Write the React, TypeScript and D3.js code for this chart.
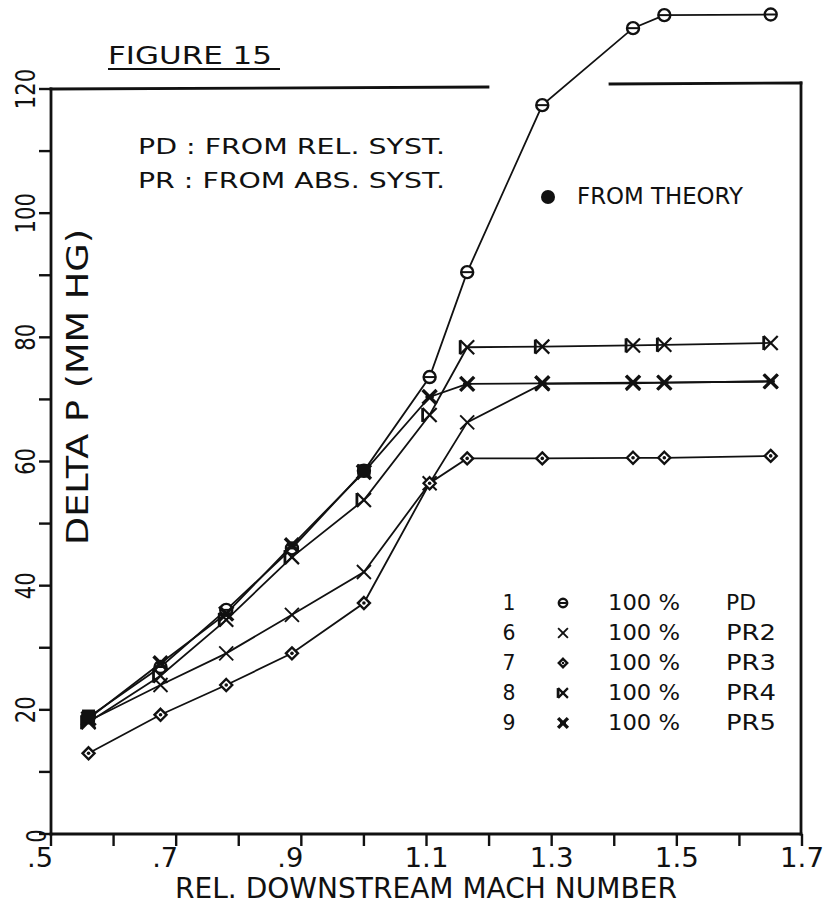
import React from 'react';
import * as d3 from 'd3';

// ---- data ----
const machNumbers = [0.56, 0.675, 0.78, 0.885, 1.0, 1.105, 1.165, 1.285, 1.43, 1.48, 1.65];
const seriesPD = [18.8, 26.9, 36.1, 46.0, 58.5, 73.6, 90.5, 117.4, 129.8, 131.9, 132.0];
const seriesPR2 = [18.2, 24.0, 29.1, 35.3, 42.2, 56.5, 66.3, 72.5, 72.6, 72.7, 72.9];
const seriesPR3 = [13.0, 19.2, 24.0, 29.1, 37.2, 56.5, 60.5, 60.5, 60.6, 60.6, 60.9];
const seriesPR4 = [18.0, 25.5, 34.5, 44.6, 53.8, 67.5, 78.4, 78.5, 78.7, 78.8, 79.1];
const seriesPR5 = [18.6, 27.5, 35.5, 46.5, 58.3, 70.4, 72.5, 72.6, 72.7, 72.7, 72.9];
const theoryX = [0.56, 1.0];
const theoryY = [19.0, 58.5];

const xTickValues = [0.5, 0.6, 0.7, 0.8, 0.9, 1.0, 1.1, 1.2, 1.3, 1.4, 1.5, 1.6, 1.7];
const xLabelValues = [0.5, 0.7, 0.9, 1.1, 1.3, 1.5, 1.7];
const xLabelTexts = ['.5', '.7', '.9', '1.1', '1.3', '1.5', '1.7'];
const yTickValues = [0, 10, 20, 30, 40, 50, 60, 70, 80, 90, 100, 110, 120];
const yLabelValues = [0, 20, 40, 60, 80, 100, 120];
const yLabelTexts = ['0', '20', '40', '60', '80', '100', '120'];

const legendNumbers = ['1', '6', '7', '8', '9'];
const legendPercents = ['100 %', '100 %', '100 %', '100 %', '100 %'];
const legendNames = ['PD', 'PR2', 'PR3', 'PR4', 'PR5'];
const legendKinds = ['circle', 'cross', 'diamond', 'kappa', 'bold'];

const W = 829;
const H = 912;
const FONT = '"DejaVu Sans", "Liberation Sans", sans-serif';

const x = d3.scaleLinear().domain([0.5, 1.7]).range([51, 802]);
const y = d3.scaleLinear().domain([0, 120]).range([834, 89]);

function Marker({ kind, cx, cy, s = 1 }: { kind: string; cx: number; cy: number; s?: number }) {
  const k = 7 * s;
  if (kind === 'circle') {
    const r = 6 * s;
    return (
      <g>
        <circle cx={cx} cy={cy} r={r} fill="white" stroke="#111" strokeWidth={2.4} />
        <line x1={cx - r} x2={cx + r} y1={cy} y2={cy} stroke="#111" strokeWidth={2} />
      </g>
    );
  }
  if (kind === 'cross') {
    return (
      <g stroke="#111" strokeWidth={1.9}>
        <line x1={cx - k} y1={cy - k} x2={cx + k} y2={cy + k} />
        <line x1={cx - k} y1={cy + k} x2={cx + k} y2={cy - k} />
      </g>
    );
  }
  if (kind === 'diamond') {
    const d = 6 * s;
    return (
      <g>
        <path d={`M${cx},${cy - d}L${cx + d},${cy}L${cx},${cy + d}L${cx - d},${cy}Z`} fill="white" stroke="#111" strokeWidth={2.4} />
        <circle cx={cx} cy={cy} r={1.8 * s} fill="#111" />
      </g>
    );
  }
  if (kind === 'kappa') {
    return (
      <g stroke="#111" strokeWidth={2.2}>
        <line x1={cx - k} y1={cy - k} x2={cx - k} y2={cy + k} strokeWidth={2.8} />
        <line x1={cx - k} y1={cy - k} x2={cx + k} y2={cy + k} />
        <line x1={cx - k} y1={cy + k} x2={cx + k} y2={cy - k} />
      </g>
    );
  }
  if (kind === 'bold') {
    return (
      <g stroke="#111" strokeWidth={3.4}>
        <line x1={cx - k} y1={cy - k} x2={cx + k} y2={cy + k} />
        <line x1={cx - k} y1={cy + k} x2={cx + k} y2={cy - k} />
        <line x1={cx - k * 0.6} y1={cy} x2={cx + k * 0.6} y2={cy} strokeWidth={2.4} />
      </g>
    );
  }
  return null;
}

function T({ x0, y0, len, size, text, anchor = 'start', rotate = 0 }: any) {
  return (
    <text
      transform={`translate(${x0},${y0}) rotate(${rotate})`}
      textAnchor={anchor}
      fontFamily={FONT}
      fontSize={size}
      fill="#111"
      textLength={len}
      lengthAdjust="spacingAndGlyphs"
    >
      {text}
    </text>
  );
}

export default function App() {
  const series = [
    { kind: 'circle', values: seriesPD },
    { kind: 'cross', values: seriesPR2 },
    { kind: 'diamond', values: seriesPR3 },
    { kind: 'kappa', values: seriesPR4 },
    { kind: 'bold', values: seriesPR5 },
  ];
  const line = d3
    .line<number>()
    .x((_, i) => x(machNumbers[i]))
    .y((v) => y(v));

  const top = y(120);
  const left = x(0.5);
  const right = x(1.7) - 1;
  const bottom = y(0);

  return (
    <svg width={W} height={H} style={{ position: 'absolute', left: 0, top: 0, background: 'white' }}>
      <rect width={W} height={H} fill="white" />
      {/* frame */}
      <g stroke="#111" strokeWidth={2.8} fill="none" strokeLinecap="square">
        <line x1={left} y1={bottom} x2={right} y2={bottom} />
        <line x1={left} y1={bottom} x2={left} y2={top} />
        <line x1={left} y1={top} x2={488} y2={top - 2} />
        <line x1={610} y1={top - 5} x2={right} y2={top - 6} />
        <line x1={right} y1={top - 6} x2={right} y2={bottom} />
      </g>
      {/* y ticks */}
      <g stroke="#111" strokeWidth={2.4}>
        {yTickValues.map((v) => (
          <line key={v} x1={left - 12} x2={left} y1={y(v)} y2={y(v)} />
        ))}
      </g>
      {/* x ticks */}
      <g stroke="#111" strokeWidth={2.4}>
        {xTickValues.map((v) => (
          <line key={v} x1={x(v)} x2={x(v)} y1={bottom} y2={bottom + 12} />
        ))}
      </g>
      {/* y labels */}
      {yLabelValues.map((v, i) => {
        const t = yLabelTexts[i];
        const zero = t === '0';
        return (
          <T
            key={v}
            x0={zero ? 46 : 35}
            y0={y(v) + (zero ? 2 : 0)}
            rotate={-90}
            anchor="middle"
            size={27}
            len={t.length * 13.5}
            text={t}
          />
        );
      })}
      {/* x labels */}
      {xLabelValues.map((v, i) => {
        const t = xLabelTexts[i];
        const dot = t.startsWith('.');
        return (
          <T
            key={v}
            x0={x(v) - (dot ? 11 : 0)}
            y0={867}
            anchor="middle"
            size={27}
            len={dot ? 26 : 44}
            text={t}
          />
        );
      })}
      {/* axis titles */}
      <T x0={175} y0={898} size={29} len={502} text="REL. DOWNSTREAM MACH NUMBER" />
      <T x0={88} y0={387} rotate={-90} anchor="middle" size={31} len={316} text="DELTA P (MM HG)" />
      {/* title & notes */}
      <T x0={108} y0={64} size={25} len={164} text="FIGURE 15" />
      <line x1={108} x2={280} y1={69} y2={69} stroke="#111" strokeWidth={2} />
      <T x0={138} y0={154} size={22} len={307} text="PD : FROM REL. SYST." />
      <T x0={138} y0={188} size={22} len={307} text="PR : FROM ABS. SYST." />
      <circle cx={548} cy={197} r={7} fill="#111" />
      <T x0={577} y0={204} size={23} len={166} text="FROM THEORY" />

      {/* data lines */}
      {series.map((s, i) => (
        <path key={i} d={line(s.values) || ''} fill="none" stroke="#111" strokeWidth={1.8} />
      ))}
      {/* markers */}
      {series.map((s, i) =>
        s.values.map((v, j) => <Marker key={`${i}-${j}`} kind={s.kind} cx={x(machNumbers[j])} cy={y(v)} />)
      )}
      {theoryX.map((tx, i) => (
        <rect key={i} x={x(tx) - 6.5} y={y(theoryY[i]) - 6.5} width={13} height={13} fill="#111" />
      ))}

      {/* legend */}
      {legendNumbers.map((n, i) => {
        const by = 610 + i * 30;
        return (
          <g key={n}>
            <T x0={509} y0={by} anchor="middle" size={21} len={13} text={n} />
            <Marker kind={legendKinds[i]} cx={563} cy={by - 7} s={0.7} />
            <T x0={608} y0={by} size={21} len={72} text={legendPercents[i]} />
            <T x0={726} y0={by} size={21} len={legendNames[i].length === 2 ? 30 : 50} text={legendNames[i]} />
          </g>
        );
      })}
    </svg>
  );
}
